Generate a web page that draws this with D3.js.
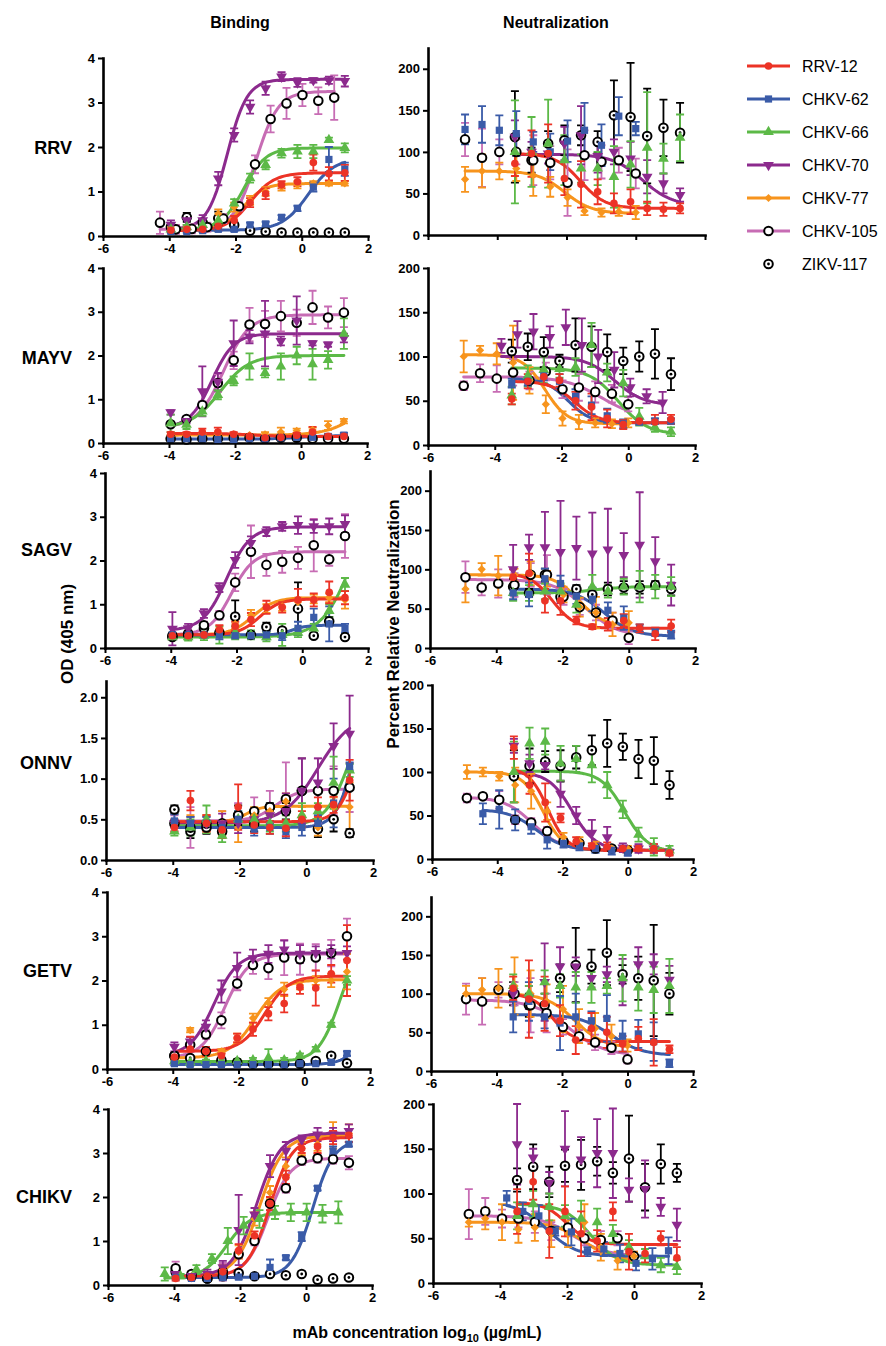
<!DOCTYPE html>
<html>
<head>
<meta charset="utf-8">
<script src="https://cdn.jsdelivr.net/npm/d3@7"></script>
<style>
body { margin: 0; background: #fff; }
svg text { font-family: "Liberation Sans", Arial, Helvetica, sans-serif; }
</style>
</head>
<body>
<svg id="chart" width="886" height="1346"></svg>
<script>
/* global d3 */
const mabs = ['RRV-12', 'CHKV-62', 'CHKV-66', 'CHKV-70', 'CHKV-77', 'CHKV-105', 'ZIKV-117'];
const mabColors = ['#ec3326', '#3a5ba8', '#5cb947', '#8c2a8d', '#f7941d', '#c76cb4', '#000000'];
const viruses = ['RRV', 'MAYV', 'SAGV', 'ONNV', 'GETV', 'CHIKV'];
const xTicks = [-6, -4, -2, 0, 2];
const odTicks = [0, 1, 2, 3, 4];
const odTicksOnnv = [0, 0.5, 1, 1.5, 2];
const neutTicks = [0, 50, 100, 150, 200];

// log10 dilution series (ug/mL)
const bindDose = [-3.95, -3.47, -2.99, -2.52, -2.04, -1.56, -1.09, -0.61, -0.13, 0.35, 0.82, 1.30];
const bindDoseLo = [-4.28, -3.80, -3.32, -2.85, -2.37, -1.89, -1.41, -0.94, -0.46, 0.02, 0.50, 0.98];
const neutDoseA = [-3.49, -3.01, -2.53, -2.06, -1.58, -1.10, -0.63, -0.15, 0.33, 0.80, 1.28];
const neutDoseB = [-4.93, -4.44, -3.94, -3.45, -2.96, -2.47, -1.97, -1.48, -0.99, -0.49, 0.00];
const neutDoseC = [-3.80, -3.32, -2.84, -2.35, -1.87, -1.39, -0.90, -0.42, 0.06, 0.55, 1.03];

// one row per mAb, in the order of `mabs`
// fits: [left plateau, right plateau, logEC50, slope], null = no curve

// ---- binding, OD 405 nm ----
const rrvBindDose = [bindDose, bindDose, bindDose, bindDose, bindDose, bindDoseLo, bindDose];
const rrvBindY = [
  [0.13, 0.15, 0.15, 0.22, 0.35, 0.75, 0.95, 1.15, 1.22, 1.65, 1.40, 1.42],
  [0.10, 0.10, 0.12, 0.15, 0.15, 0.25, 0.27, 0.42, 0.62, 1.10, 1.72, 1.50],
  [0.15, 0.20, 0.25, 0.35, 0.73, 1.30, 1.60, 1.86, 1.90, 1.90, 2.16, 1.98],
  [0.25, 0.35, 0.35, 1.29, 2.27, 2.90, 3.32, 3.58, 3.45, 3.50, 3.50, 3.48],
  [0.20, 0.20, 0.20, 0.50, 0.65, 0.80, 1.00, 1.10, 1.15, 1.18, 1.18, 1.18],
  [0.30, 0.15, 0.16, 0.20, 0.39, 0.67, 1.61, 2.63, 2.98, 3.17, 3.04, 3.11],
  [0.20, 0.42, 0.30, 0.40, 0.25, 0.12, 0.10, 0.08, 0.08, 0.08, 0.08, 0.08]];
const rrvBindErr = [
  [0.05, 0.05, 0.05, 0.08, 0.10, 0.10, 0.12, 0.08, 0.10, 0.18, 0.15, 0.18],
  [0.03, 0.03, 0.03, 0.04, 0.04, 0.05, 0.05, 0.05, 0.06, 0.10, 0.28, 0.15],
  [0.05, 0.05, 0.08, 0.08, 0.10, 0.10, 0.10, 0.10, 0.15, 0.15, 0.05, 0.10],
  [0.10, 0.10, 0.12, 0.15, 0.15, 0.15, 0.15, 0.10, 0.10, 0.05, 0.08, 0.12],
  [0.05, 0.05, 0.08, 0.10, 0.10, 0.10, 0.10, 0.08, 0.08, 0.05, 0.05, 0.05],
  [0.25, 0.10, 0.10, 0.10, 0.10, 0.10, 0.20, 0.30, 0.35, 0.25, 0.30, 0.50],
  [0.05, 0.10, 0.08, 0.15, 0.05, 0.03, 0.03, 0.02, 0.02, 0.02, 0.02, 0.02]];
const rrvBindFit = [[0.12, 1.42, -1.55, 1.2], [0.13, 1.75, 0.2, 1.1], [0.15, 1.98, -1.75, 1.3],
  [0.15, 3.52, -2.25, 1.45], [0.15, 1.18, -1.75, 1.4], [0.15, 3.25, -1.38, 1.3], null];

const mayvBindDose = [bindDose, bindDose, bindDose, bindDose, bindDose, bindDose, bindDose];
const mayvBindY = [
  [0.20, 0.20, 0.25, 0.25, 0.20, 0.15, 0.12, 0.13, 0.18, 0.25, 0.15, 0.15],
  [0.10, 0.10, 0.10, 0.08, 0.08, 0.10, 0.10, 0.12, 0.13, 0.13, 0.15, 0.18],
  [0.45, 0.42, 0.72, 1.10, 1.42, 1.75, 1.60, 1.75, 2.00, 1.80, 1.90, 2.50],
  [0.70, 0.50, 1.18, 1.40, 2.28, 2.43, 2.50, 2.33, 2.80, 2.28, 2.25, 2.40],
  [0.15, 0.18, 0.18, 0.20, 0.20, 0.18, 0.20, 0.25, 0.28, 0.30, 0.40, 0.50],
  [0.43, 0.55, 0.87, 1.37, 1.89, 2.71, 2.72, 2.90, 2.75, 3.10, 2.87, 2.98],
  [0.10, 0.08, 0.10, 0.10, 0.12, 0.12, 0.10, 0.12, 0.12, 0.10, 0.10, 0.10]];
const mayvBindErr = [
  [0.05, 0.05, 0.08, 0.10, 0.05, 0.05, 0.05, 0.05, 0.05, 0.12, 0.05, 0.05],
  [0.03, 0.03, 0.03, 0.03, 0.03, 0.03, 0.03, 0.03, 0.03, 0.03, 0.05, 0.05],
  [0.20, 0.10, 0.10, 0.10, 0.10, 0.30, 0.10, 0.30, 0.20, 0.35, 0.20, 0.35],
  [0.05, 0.05, 0.57, 0.20, 0.52, 0.15, 0.75, 0.10, 0.55, 0.05, 0.05, 0.10],
  [0.03, 0.03, 0.03, 0.03, 0.03, 0.03, 0.05, 0.10, 0.05, 0.05, 0.10, 0.05],
  [0.05, 0.05, 0.08, 0.20, 0.20, 0.38, 0.30, 0.35, 0.30, 0.38, 0.25, 0.33],
  [0.02, 0.02, 0.02, 0.02, 0.02, 0.02, 0.02, 0.02, 0.02, 0.02, 0.02, 0.02]];
const mayvBindFit = [[0.22, 0.15, -1.5, 1.0], [0.09, 0.17, 0.0, 1.0], [0.35, 2.0, -2.45, 1.0],
  [0.35, 2.5, -2.7, 1.3], [0.18, 1.2, 1.8, 0.9], [0.35, 2.93, -2.35, 1.1], null];

const sagvBindDose = [bindDose, bindDose, bindDose, bindDose, bindDose, bindDose, bindDose];
const sagvBindY = [
  [0.28, 0.28, 0.30, 0.42, 0.50, 0.65, 0.93, 0.93, 1.10, 1.10, 1.27, 1.15],
  [0.30, 0.30, 0.30, 0.30, 0.28, 0.28, 0.30, 0.28, 0.45, 0.70, 0.55, 0.45],
  [0.25, 0.25, 0.28, 0.30, 0.35, 0.30, 0.25, 0.30, 0.35, 0.45, 0.85, 1.45],
  [0.44, 0.45, 0.79, 1.38, 2.01, 2.40, 2.66, 2.78, 2.81, 2.78, 2.78, 2.83],
  [0.30, 0.30, 0.30, 0.35, 0.55, 0.75, 0.90, 0.95, 1.05, 1.12, 1.15, 1.10],
  [0.25, 0.30, 0.52, 0.75, 1.50, 2.20, 1.90, 1.97, 2.06, 2.35, 2.03, 2.56],
  [0.28, 0.33, 0.45, 0.35, 0.72, 0.30, 0.48, 0.40, 0.90, 0.28, 0.61, 0.25]];
const sagvBindErr = [
  [0.05, 0.05, 0.05, 0.10, 0.10, 0.15, 0.15, 0.12, 0.25, 0.15, 0.25, 0.15],
  [0.05, 0.05, 0.05, 0.10, 0.05, 0.05, 0.10, 0.10, 0.15, 0.20, 0.40, 0.10],
  [0.05, 0.08, 0.10, 0.20, 0.15, 0.10, 0.10, 0.25, 0.10, 0.10, 0.15, 0.15],
  [0.38, 0.10, 0.10, 0.10, 0.18, 0.15, 0.10, 0.10, 0.20, 0.15, 0.18, 0.20],
  [0.05, 0.05, 0.05, 0.10, 0.10, 0.12, 0.10, 0.10, 0.10, 0.10, 0.10, 0.20],
  [0.05, 0.10, 0.08, 0.10, 0.20, 0.60, 0.25, 0.25, 0.25, 0.60, 0.15, 0.50],
  [0.03, 0.05, 0.05, 0.05, 0.37, 0.05, 0.10, 0.05, 0.60, 0.05, 0.10, 0.03]];
const sagvBindFit = [[0.30, 1.12, -1.3, 1.4], [0.30, 0.52, -0.3, 2.0], [0.25, 4.0, 1.6, 0.9],
  [0.40, 2.77, -2.3, 1.2], [0.30, 1.15, -1.5, 1.3], [0.30, 2.20, -2.15, 1.3], null];

const onnvBindDose = [bindDose, bindDose, bindDose, bindDose, bindDose, bindDose, bindDose];
const onnvBindY = [
  [0.40, 0.73, 0.45, 0.37, 0.65, 0.43, 0.40, 0.39, 0.50, 0.65, 0.68, 0.98],
  [0.48, 0.45, 0.45, 0.40, 0.50, 0.38, 0.40, 0.35, 0.40, 0.45, 0.70, 1.15],
  [0.35, 0.40, 0.50, 0.30, 0.50, 0.50, 0.45, 0.45, 0.55, 0.60, 0.95, 1.10],
  [0.45, 0.45, 0.45, 0.45, 0.45, 0.50, 0.55, 0.60, 0.85, 0.95, 1.40, 1.55],
  [0.45, 0.45, 0.45, 0.45, 0.40, 0.55, 0.60, 0.72, 0.55, 0.40, 0.65, 0.65],
  [0.45, 0.40, 0.45, 0.45, 0.55, 0.60, 0.65, 0.75, 0.85, 0.85, 0.85, 0.89],
  [0.62, 0.35, 0.40, 0.35, 0.55, 0.45, 0.65, 0.60, 0.85, 0.38, 0.50, 0.33]];
const onnvBindErr = [
  [0.05, 0.12, 0.10, 0.10, 0.28, 0.10, 0.08, 0.10, 0.10, 0.12, 0.10, 0.25],
  [0.08, 0.08, 0.08, 0.08, 0.10, 0.08, 0.08, 0.08, 0.10, 0.10, 0.30, 0.05],
  [0.05, 0.10, 0.17, 0.08, 0.10, 0.10, 0.10, 0.10, 0.15, 0.10, 0.32, 0.08],
  [0.05, 0.08, 0.08, 0.12, 0.12, 0.10, 0.10, 0.22, 0.40, 0.30, 0.28, 0.47],
  [0.05, 0.10, 0.10, 0.15, 0.18, 0.10, 0.05, 0.10, 0.10, 0.10, 0.12, 0.30],
  [0.10, 0.25, 0.10, 0.15, 0.15, 0.17, 0.20, 0.45, 0.40, 0.40, 0.30, 0.30],
  [0.05, 0.08, 0.08, 0.08, 0.12, 0.10, 0.05, 0.10, 0.40, 0.10, 0.15, 0.05]];
const onnvBindFit = [[0.47, 2.0, 1.55, 1.5], [0.40, 3.0, 1.6, 1.5], [0.42, 2.0, 1.3, 1.2],
  [0.45, 1.8, 0.35, 0.85], [0.47, 0.66, -1.8, 2.0], [0.48, 0.87, -0.9, 1.3], null];

const getvBindDose = [bindDose, bindDose, bindDose, bindDose, bindDose, bindDose, bindDose];
const getvBindY = [
  [0.27, 0.45, 0.40, 0.30, 0.70, 0.90, 1.25, 1.48, 1.85, 1.83, 2.15, 2.45],
  [0.12, 0.10, 0.10, 0.10, 0.10, 0.10, 0.10, 0.10, 0.12, 0.12, 0.15, 0.35],
  [0.18, 0.15, 0.18, 0.18, 0.18, 0.20, 0.25, 0.20, 0.30, 0.45, 1.00, 2.00],
  [0.50, 0.62, 0.95, 1.75, 2.28, 2.50, 2.60, 2.70, 2.60, 2.62, 2.65, 2.62],
  [0.25, 0.88, 0.40, 0.40, 0.70, 1.15, 1.50, 1.80, 1.90, 2.00, 2.00, 2.20],
  [0.30, 0.55, 0.78, 1.10, 1.93, 2.35, 2.28, 2.52, 2.48, 2.52, 2.62, 3.00],
  [0.30, 0.25, 0.40, 0.20, 0.15, 0.12, 0.12, 0.12, 0.12, 0.18, 0.30, 0.13]];
const getvBindErr = [
  [0.05, 0.28, 0.10, 0.05, 0.10, 0.15, 0.15, 0.20, 0.15, 0.40, 0.20, 0.80],
  [0.03, 0.03, 0.03, 0.03, 0.03, 0.03, 0.03, 0.03, 0.03, 0.03, 0.05, 0.05],
  [0.03, 0.03, 0.03, 0.05, 0.05, 0.05, 0.20, 0.05, 0.05, 0.05, 0.05, 0.10],
  [0.10, 0.10, 0.15, 0.25, 0.35, 0.20, 0.20, 0.20, 0.20, 0.15, 0.15, 0.15],
  [0.05, 0.05, 0.05, 0.05, 0.10, 0.10, 0.10, 0.15, 0.10, 0.10, 0.15, 0.40],
  [0.05, 0.10, 0.10, 0.18, 0.15, 0.20, 0.25, 0.40, 0.35, 0.30, 0.30, 0.40],
  [0.03, 0.03, 0.05, 0.03, 0.02, 0.02, 0.02, 0.02, 0.02, 0.03, 0.05, 0.03]];
const getvBindFit = [[0.40, 2.10, -1.2, 1.2], [0.10, 1.0, 1.7, 1.5], [0.17, 3.0, 1.1, 1.3],
  [0.30, 2.62, -2.75, 1.2], [0.25, 2.02, -1.5, 1.1], [0.25, 2.60, -2.4, 1.2], null];

const chikvBindDose = [bindDose, bindDose, bindDoseLo, bindDose, bindDose, bindDose, bindDose];
const chikvBindY = [
  [0.15, 0.17, 0.20, 0.30, 0.78, 1.12, 1.85, 2.45, 3.10, 3.15, 3.35, 3.40],
  [0.17, 0.15, 0.15, 0.17, 0.18, 0.20, 0.40, 0.62, 1.10, 2.20, 3.05, 3.20],
  [0.25, 0.20, 0.35, 0.60, 1.00, 1.35, 1.50, 1.65, 1.65, 1.65, 1.62, 1.65],
  [0.25, 0.20, 0.25, 0.40, 1.25, 1.60, 2.70, 3.05, 3.30, 3.42, 3.42, 3.50],
  [0.20, 0.20, 0.20, 0.35, 0.75, 1.50, 2.10, 2.70, 3.10, 3.20, 3.40, 3.45],
  [0.38, 0.25, 0.15, 0.30, 0.70, 1.00, 1.85, 2.20, 2.83, 2.88, 2.86, 2.78],
  [0.30, 0.20, 0.15, 0.20, 0.27, 0.20, 0.25, 0.22, 0.25, 0.12, 0.15, 0.17]];
const chikvBindErr = [
  [0.05, 0.05, 0.05, 0.10, 0.15, 0.10, 0.15, 0.15, 0.10, 0.15, 0.15, 0.15],
  [0.03, 0.03, 0.03, 0.05, 0.05, 0.05, 0.18, 0.05, 0.10, 0.05, 0.10, 0.05],
  [0.15, 0.05, 0.10, 0.10, 0.30, 0.20, 0.20, 0.15, 0.20, 0.20, 0.20, 0.25],
  [0.10, 0.05, 0.10, 0.15, 0.80, 0.15, 0.25, 0.20, 0.10, 0.15, 0.15, 0.15],
  [0.05, 0.05, 0.05, 0.10, 0.15, 0.15, 0.15, 0.20, 0.15, 0.15, 0.30, 0.20],
  [0.15, 0.05, 0.05, 0.20, 0.10, 0.10, 0.15, 0.10, 0.10, 0.10, 0.10, 0.15],
  [0.03, 0.03, 0.03, 0.03, 0.03, 0.03, 0.03, 0.03, 0.03, 0.02, 0.02, 0.02]];
const chikvBindFit = [[0.20, 3.35, -1.1, 1.3], [0.17, 3.30, 0.2, 1.35], [0.15, 1.65, -2.4, 1.2],
  [0.20, 3.45, -1.5, 1.2], [0.20, 3.40, -1.4, 1.2], [0.20, 2.88, -1.15, 1.3], null];

// ---- neutralization, percent relative ----
const rrvNeutDose = [neutDoseA, neutDoseB, neutDoseA, neutDoseA, neutDoseB, neutDoseB, neutDoseA];
const rrvNeutY = [
  [86, 98, 98, 68, 61, 52, 38, 40, 32, 31, 32],
  [127, 133, 126, 122, 112, 100, 113, 126, 108, 143, 128],
  [100, 100, 110, 90, 80, 80, 70, 85, 105, 92, 117],
  [118, 100, 98, 110, 120, 95, 100, 92, 70, 62, 48],
  [67, 77, 77, 80, 72, 58, 45, 29, 27, 28, 27],
  [115, 93, 100, 100, 90, 87, 63, 96, 88, 90, 74],
  [118, 90, 110, 114, 120, 112, 144, 142, 119, 129, 123]];
const rrvNeutErr = [
  [15, 28, 35, 20, 28, 15, 12, 15, 8, 8, 6],
  [18, 22, 18, 27, 12, 22, 25, 33, 25, 23, 8],
  [62, 42, 53, 30, 17, 20, 37, 28, 67, 18, 28],
  [20, 12, 12, 20, 35, 20, 15, 20, 20, 12, 8],
  [15, 20, 10, 15, 25, 12, 10, 5, 5, 5, 8],
  [20, 35, 15, 15, 30, 20, 40, 30, 20, 15, 18],
  [55, 15, 15, 18, 12, 13, 42, 65, 57, 34, 36]];
const rrvNeutFit = [[98, 32, -1.6, 1.2], null, null, [97, 35, 0.2, 1.0], [77, 26, -2.05, 1.1], null, null];

const mayvNeutDose = [neutDoseA, neutDoseA, neutDoseA, neutDoseC, neutDoseB, neutDoseB, neutDoseA];
const mayvNeutY = [
  [52, 72, 77, 73, 50, 43, 30, 23, 27, 26, 29],
  [70, 72, 78, 72, 55, 45, 33, 24, 26, 27, 27],
  [56, 78, 85, 86, 88, 113, 82, 70, 32, 20, 15],
  [112, 125, 128, 122, 133, 113, 100, 85, 65, 55, 48],
  [100, 107, 103, 93, 73, 46, 30, 26, 25, 24, 25],
  [67, 81, 75, 82, 73, 83, 63, 65, 60, 58, 46],
  [106, 111, 105, 95, 113, 111, 105, 95, 100, 103, 80]];
const mayvNeutErr = [
  [6, 8, 8, 7, 10, 15, 10, 5, 3, 8, 5],
  [5, 5, 5, 8, 8, 10, 8, 5, 3, 3, 3],
  [10, 12, 15, 10, 10, 25, 10, 15, 10, 5, 5],
  [8, 15, 20, 12, 20, 30, 30, 20, 10, 8, 12],
  [18, 5, 12, 42, 15, 10, 8, 8, 5, 5, 5],
  [5, 10, 15, 15, 10, 10, 10, 15, 12, 10, 8],
  [13, 15, 17, 7, 30, 23, 20, 15, 17, 28, 18]];
const mayvNeutFit = [[72, 25, -1.6, 1.2], [75, 25, -1.8, 1.3], [87, 12, -0.3, 1.0],
  [100, 45, -0.4, 1.0], [102, 24, -2.5, 1.3], [77, 30, -0.8, 0.8], null];

const sagvNeutDose = [neutDoseA, neutDoseA, neutDoseA, neutDoseA, neutDoseB, neutDoseB, neutDoseA];
const sagvNeutY = [
  [90, 95, 60, 60, 35, 27, 30, 35, 25, 18, 28],
  [70, 68, 88, 82, 66, 62, 48, 38, 25, 20, 17],
  [70, 70, 72, 72, 55, 78, 72, 78, 78, 78, 78],
  [100, 128, 128, 122, 127, 120, 125, 118, 131, 110, 80],
  [75, 100, 92, 93, 95, 88, 68, 52, 45, 30, 32],
  [90, 77, 82, 80, 93, 93, 65, 52, 45, 35, 13],
  [78, 70, 93, 65, 75, 68, 75, 77, 77, 80, 75]];
const sagvNeutErr = [
  [10, 25, 15, 18, 5, 3, 8, 8, 5, 8, 8],
  [8, 15, 13, 10, 10, 15, 10, 15, 5, 5, 5],
  [10, 10, 10, 10, 10, 15, 8, 10, 20, 15, 12],
  [31, 16, 45, 65, 40, 52, 52, 28, 67, 31, 26],
  [17, 8, 25, 8, 15, 10, 10, 12, 20, 15, 15],
  [20, 10, 18, 15, 15, 25, 10, 10, 10, 10, 8],
  [10, 5, 8, 5, 5, 8, 8, 8, 8, 5, 8]];
const sagvNeutFit = [[95, 25, -2.3, 1.3], [75, 15, -0.75, 1.0], [70, 78, -1.0, 1.0],
  null, [93, 28, -1.5, 1.2], [87, 15, -1.3, 0.9], null];

const onnvNeutDose = [neutDoseA, neutDoseB, neutDoseA, neutDoseA, neutDoseB, neutDoseB, neutDoseA];
const onnvNeutY = [
  [128, 85, 65, 47, 20, 15, 14, 12, 12, 12, 7],
  [null, 52, 57, 45, 37, 22, 18, 15, 12, 10, 7],
  [100, 133, 135, 110, 115, 108, 85, 57, 28, 14, 10],
  [130, 110, 108, 75, 50, 30, 25, 13, 12, 12, 8],
  [100, 100, 95, 85, 78, 55, 25, 20, 15, 12, 12],
  [70, 72, 68, 45, 42, 32, 20, 18, 12, 12, 10],
  [95, 107, 112, 107, 117, 125, 133, 129, 115, 113, 85]];
const onnvNeutErr = [
  [13, 10, 22, 5, 5, 3, 5, 3, 3, 5, 3],
  [0, 12, 22, 12, 8, 10, 5, 5, 5, 5, 3],
  [35, 18, 15, 20, 15, 20, 15, 10, 8, 10, 5],
  [8, 10, 5, 15, 10, 15, 12, 5, 5, 5, 3],
  [8, 5, 5, 20, 20, 10, 5, 5, 5, 3, 3],
  [5, 3, 10, 5, 5, 5, 3, 3, 3, 3, 3],
  [30, 20, 12, 18, 13, 17, 27, 15, 22, 27, 16]];
const onnvNeutFit = [[105, 10, -2.45, 1.5], [57, 10, -2.8, 1.0], [101, 8, -0.1, 1.2],
  [100, 10, -1.7, 1.2], [100, 10, -2.6, 1.4], [71, 10, -2.9, 1.0], null];

const getvNeutDose = [neutDoseA, neutDoseA, neutDoseA, neutDoseA, neutDoseB, neutDoseB, neutDoseA];
const getvNeutY = [
  [107, 93, 87, 65, 40, 55, 50, 35, 42, 37, 28],
  [70, 90, 70, 62, 70, 65, 68, 45, 48, 38, 10],
  [110, 100, 115, 110, 108, 108, 110, 120, 108, 105, 110],
  [100, 95, 115, 135, 135, 120, 125, 115, 138, 138, 118],
  [100, 105, 107, 110, 100, 90, 80, 58, 55, 45, 33],
  [93, 90, 105, 100, 85, 75, 57, 45, 37, 30, 15],
  [100, 85, 85, 120, 137, 135, 153, 125, 120, 117, 100]];
const getvNeutErr = [
  [15, 50, 35, 20, 18, 20, 20, 10, 15, 30, 5],
  [20, 25, 15, 35, 30, 12, 30, 20, 18, 25, 5],
  [15, 10, 15, 15, 20, 20, 10, 30, 30, 30, 35],
  [10, 15, 50, 25, 12, 12, 10, 30, 22, 13, 18],
  [10, 15, 25, 37, 30, 22, 30, 22, 20, 15, 8],
  [20, 30, 10, 15, 35, 25, 10, 8, 10, 8, 5],
  [15, 15, 15, 18, 48, 22, 42, 12, 28, 72, 27]];
const getvNeutFit = [[100, 38, -2.3, 1.4], [73, 20, -0.5, 0.9], null, null,
  [100, 30, -1.6, 1.0], [92, 20, -1.8, 0.8], null];

const chikvNeutDose = [neutDoseA, neutDoseC, neutDoseA, neutDoseA, neutDoseB, neutDoseB, neutDoseA];
const chikvNeutY = [
  [80, 113, 58, 80, 55, 47, 80, 35, 33, 50, 28],
  [95, 80, 75, 58, 57, 35, 38, 33, 22, 27, 36],
  [75, 88, 85, 75, 72, 68, 55, 40, 30, 20, 18],
  [155, 140, 112, 150, 138, 145, 145, 104, 105, 85, 65],
  [68, 72, 68, 60, 62, 55, 55, 68, 40, 25, 30],
  [77, 80, 72, 72, 68, 58, 62, 50, 48, 50, 30],
  [115, 130, 113, 131, 132, 136, 123, 139, 107, 133, 123]];
const chikvNeutErr = [
  [25, 20, 30, 28, 25, 12, 10, 20, 10, 8, 12],
  [8, 10, 12, 5, 15, 5, 8, 10, 8, 12, 15],
  [15, 15, 15, 12, 20, 15, 10, 8, 8, 8, 8],
  [45, 10, 12, 42, 25, 38, 50, 13, 32, 10, 18],
  [5, 12, 20, 15, 15, 15, 15, 20, 15, 10, 5],
  [28, 15, 10, 10, 12, 10, 10, 8, 10, 8, 5],
  [13, 25, 17, 18, 28, 16, 12, 48, 26, 22, 10]];
const chikvNeutFit = [[90, 43, -2.0, 1.3], [90, 30, -2.6, 1.0], [88, 20, -1.3, 1.1],
  null, [68, 25, -1.5, 1.0], [75, 30, -1.8, 0.9], null];

// ---- layout ----
// frame: [x left, x right, y bottom, y top]
const leftFrames = [[103, 368, 236, 58], [103, 367, 443, 268], [105, 368, 648, 473],
  [106, 373, 860, 681], [107, 370, 1069, 892], [108, 372, 1285, 1109]];
const leftMax = [4, 4, 4, 2.2, 4, 4];
const rightFrames = [[428, 705, 235, 48], [428, 695, 445, 268], [430, 695, 648, 471],
  [432, 693, 859, 685], [431, 693, 1071, 897], [433, 701, 1283, 1104]];
const rightMax = [225, 200, 225, 200, 225, 200];
const rowLabelY = [154, 364, 556, 769, 977, 1203];

const bindPanels = [
  [rrvBindDose, rrvBindY, rrvBindErr, rrvBindFit],
  [mayvBindDose, mayvBindY, mayvBindErr, mayvBindFit],
  [sagvBindDose, sagvBindY, sagvBindErr, sagvBindFit],
  [onnvBindDose, onnvBindY, onnvBindErr, onnvBindFit],
  [getvBindDose, getvBindY, getvBindErr, getvBindFit],
  [chikvBindDose, chikvBindY, chikvBindErr, chikvBindFit]];
const neutPanels = [
  [rrvNeutDose, rrvNeutY, rrvNeutErr, rrvNeutFit],
  [mayvNeutDose, mayvNeutY, mayvNeutErr, mayvNeutFit],
  [sagvNeutDose, sagvNeutY, sagvNeutErr, sagvNeutFit],
  [onnvNeutDose, onnvNeutY, onnvNeutErr, onnvNeutFit],
  [getvNeutDose, getvNeutY, getvNeutErr, getvNeutFit],
  [chikvNeutDose, chikvNeutY, chikvNeutErr, chikvNeutFit]];

const svg = d3.select('#chart');
svg.append('rect').attr('width', 886).attr('height', 1346).attr('fill', '#fff');

const symbolTypes = [d3.symbolCircle, d3.symbolSquare, d3.symbolTriangle, d3.symbolTriangle, d3.symbolSquare];
const symbolRotate = [0, 0, 0, 180, 45];
const symbolSize = [46, 52, 50, 50, 34];

function drawMarker(g, s, cx, cy) {
  if (s < 5) {
    g.append('path')
      .attr('d', d3.symbol(symbolTypes[s], symbolSize[s])())
      .attr('transform', `translate(${cx},${cy}) rotate(${symbolRotate[s]})`)
      .attr('fill', mabColors[s]);
  } else {
    g.append('circle').attr('cx', cx).attr('cy', cy).attr('r', 4.3)
      .attr('fill', '#fff').attr('stroke', '#000').attr('stroke-width', 2);
    if (s === 6) {
      g.append('circle').attr('cx', cx).attr('cy', cy).attr('r', 1.4).attr('fill', '#000');
    }
  }
}

function logistic(f, v) {
  return f[1] + (f[0] - f[1]) / (1 + Math.pow(10, f[3] * (v - f[2])));
}

function drawPanel(frame, ymax, yTicks, yFmt, panel, showXLabels) {
  const [doses, ys, errs, fits] = panel;
  const x = d3.scaleLinear().domain([-6, 2]).range([frame[0], frame[1]]);
  const y = d3.scaleLinear().domain([0, ymax]).range([frame[2], frame[3]]);
  const g = svg.append('g');

  const xAxis = g.append('g')
    .attr('transform', `translate(0,${frame[2]})`)
    .call(d3.axisBottom(x).tickValues(xTicks).tickSizeInner(5).tickSizeOuter(0).tickPadding(3)
      .tickFormat(showXLabels ? d3.format('d') : ''));
  const yAxis = g.append('g')
    .attr('transform', `translate(${frame[0]},0)`)
    .call(d3.axisLeft(y).tickValues(yTicks).tickSizeInner(5).tickSizeOuter(0).tickPadding(3)
      .tickFormat(d3.format(yFmt)));
  [xAxis, yAxis].forEach(a => {
    a.select('.domain').attr('stroke-width', 2.6).attr('stroke-linecap', 'square');
    a.selectAll('.tick line').attr('stroke-width', 2);
    a.selectAll('.tick text').attr('font-size', 13).attr('font-weight', 'bold').attr('fill', '#000')
      .attr('font-family', '"Liberation Sans", Arial, sans-serif');
  });
  xAxis.selectAll('.tick text').text(d => showXLabels ? (d < 0 ? '-' + Math.abs(d) : d) : '');

  const curves = g.append('g');
  const bars = g.append('g');
  const marks = g.append('g');
  const line = d3.line();

  for (let s = mabs.length - 1; s >= 0; s--) {
    const pts = doses[s].map((d, i) => [d, ys[s][i], errs[s][i]]).filter(p => p[1] !== null);
    const col = s === 5 ? mabColors[5] : mabColors[s];
    if (fits[s]) {
      const lo = pts[0][0], hi = pts[pts.length - 1][0];
      const samples = d3.range(0, 81).map(i => lo + (hi - lo) * i / 80);
      curves.append('path')
        .attr('d', line(samples.map(v => [x(v), y(logistic(fits[s], v))])))
        .attr('fill', 'none').attr('stroke', col).attr('stroke-width', 3)
        .attr('stroke-linecap', 'round');
    }
    pts.forEach(p => {
      if (p[2] > 0) {
        const top = y(p[1] + p[2]);
        const bot = y(Math.max(0, p[1] - p[2]));
        const cx = x(p[0]);
        bars.append('path')
          .attr('d', `M${cx},${bot}V${top}M${cx - 4},${top}H${cx + 4}M${cx - 4},${bot}H${cx + 4}`)
          .attr('stroke', col).attr('stroke-width', 1.8).attr('fill', 'none');
      }
      drawMarker(marks, s, x(p[0]), y(p[1]));
    });
  }
}

viruses.forEach((v, r) => {
  drawPanel(leftFrames[r], leftMax[r], r === 3 ? odTicksOnnv : odTicks, r === 3 ? '.1f' : 'd', bindPanels[r], true);
  drawPanel(rightFrames[r], rightMax[r], neutTicks, 'd', neutPanels[r], r !== 0);
  svg.append('text').attr('x', 72).attr('y', rowLabelY[r])
    .attr('text-anchor', 'end').attr('font-size', 18).attr('font-weight', 'bold').text(v);
});

// titles
svg.append('text').attr('x', 240).attr('y', 28).attr('text-anchor', 'middle')
  .attr('font-size', 16).attr('font-weight', 'bold').text('Binding');
svg.append('text').attr('x', 556).attr('y', 28).attr('text-anchor', 'middle')
  .attr('font-size', 16).attr('font-weight', 'bold').text('Neutralization');
svg.append('text').attr('transform', 'translate(73,634) rotate(-90)').attr('text-anchor', 'middle')
  .attr('font-size', 17).attr('font-weight', 'bold').text('OD (405 nm)');
svg.append('text').attr('transform', 'translate(399,624) rotate(-90)').attr('text-anchor', 'middle')
  .attr('font-size', 17).attr('font-weight', 'bold').text('Percent Relative Neutralization');
const xt = svg.append('text').attr('x', 417).attr('y', 1338).attr('text-anchor', 'middle')
  .attr('font-size', 16).attr('font-weight', 'bold');
xt.append('tspan').text('mAb concentration log');
xt.append('tspan').attr('font-size', 11).attr('dy', 4).text('10');
xt.append('tspan').attr('dy', -4).text(' (µg/mL)');

// legend
const legend = svg.append('g');
mabs.forEach((m, i) => {
  const ly = 66 + 33 * i;
  if (i < 6) {
    legend.append('line').attr('x1', 747).attr('x2', 790).attr('y1', ly).attr('y2', ly)
      .attr('stroke', mabColors[i]).attr('stroke-width', 3);
  }
  drawMarker(legend, i, 768.5, ly);
  legend.append('text').attr('x', 802).attr('y', ly + 5.5).attr('font-size', 16).text(m);
});
</script>
</body>
</html>
